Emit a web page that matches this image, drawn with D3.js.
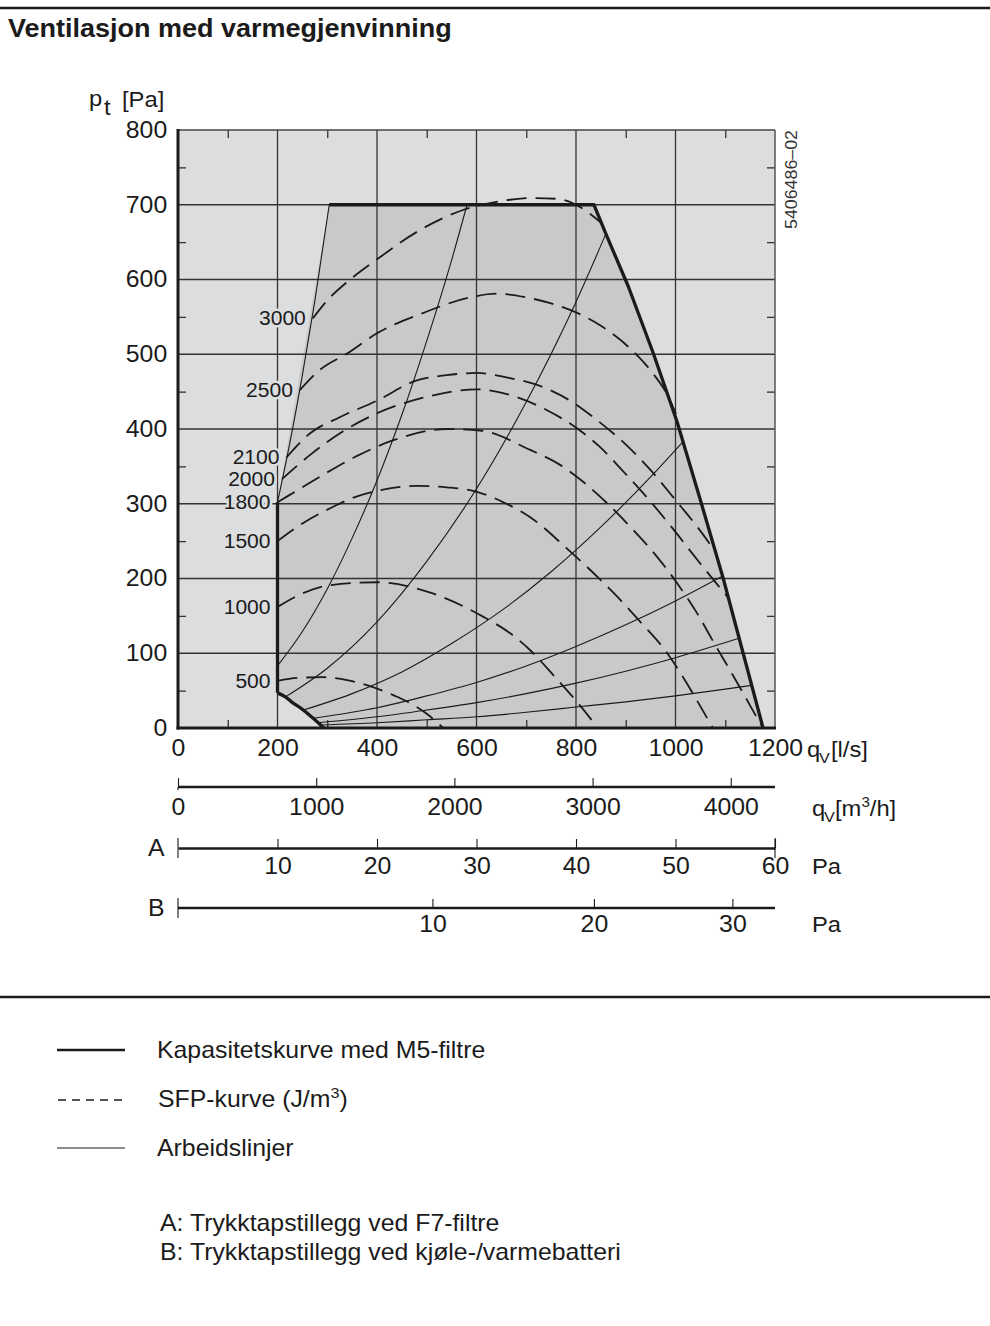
<!DOCTYPE html>
<html><head><meta charset="utf-8">
<script src="https://cdn.jsdelivr.net/npm/d3@7"></script>
<style>
html,body{margin:0;padding:0;background:#fff;}
svg{display:block;font-family:"Liberation Sans",Arial,Helvetica,sans-serif;}
</style></head><body>
<svg id="chart" width="990" height="1326"></svg>
<script>
// ---------- data ----------
const xTicks = [0, 200, 400, 600, 800, 1000, 1200];
const yTicks = [0, 100, 200, 300, 400, 500, 600, 700, 800];
const xMinor = [100, 300, 500, 700, 900, 1100];
const yMinor = [50, 150, 250, 350, 450, 550, 650, 750];
const m3hTicks = [0, 1000, 2000, 3000, 4000];
const aTicks = [10, 20, 30, 40, 50, 60];
const bTicks = [10, 20, 30];

// capacity curve (M5 filters)  [q l/s, p Pa]
const capacityOuter = [[304,700],[836,700],[862,658],[905,591],[955,502],[1003,410],[1050,305],[1096,200],[1136,100],[1176,0]];
const capacityLower = [[200,302],[200,47],[215,42],[230,34],[250,25],[270,14],[285,5],[293,0]];

// working lines
const work0 = [[200,302],[225,382],[250,472],[275,571],[304,700]];
const work1 = [[200,83],[250,129],[300,186],[350,254],[400,331],[450,419],[500,518],[550,626],[581,700]];
const work2 = [[217,42],[300,80],[400,142],[500,223],[600,320],[700,436],[800,570],[860,661]];
const work3 = [[252,24],[350,46],[450,75],[550,113],[650,157],[750,209],[850,269],[950,336],[1015,383]];
const work4 = [[272,13],[400,27],[500,43],[600,61],[700,83],[800,109],[900,138],[1000,170],[1094,203]];
const work5 = [[281,7],[400,15],[500,24],[600,34],[700,46],[800,60],[900,76],[1000,94],[1128,120]];
const work6 = [[287,4],[400,7],[500,11],[600,15],[700,21],[800,28],[900,35],[1000,43],[1100,52],[1153,57]];

// SFP curves (J/m3)
const sfpLabels = ["500","1000","1500","1800","2000","2100","2500","3000"];
const sfp500  = [[200,63],[240,67],[290,68],[340,64],[390,55],[436,43],[470,32],[500,19],[533,0]];
const sfp1000 = [[200,162],[250,180],[305,191],[400,195],[512,180],[613,149],[667,127],[708,104],[754,71],[802,35],[844,0]];
const sfp1500 = [[200,250],[251,274],[312,296],[360,310],[406,318],[480,324],[540,322],[601,316],[660,300],[708,282],[782,240],[834,208],[884,175],[932,140],[979,104],[1019,64],[1043,37],[1075,0]];
const sfp1800 = [[200,302],[250,322],[300,342],[360,364],[433,385],[541,400],[607,398],[708,372],[768,352],[862,301],[915,265],[963,229],[1003,194],[1043,154],[1079,112],[1116,70],[1150,30],[1172,4]];
const sfp2000 = [[209,333],[265,365],[332,397],[400,421],[500,443],[601,453],[680,443],[742,425],[808,398],[848,376],[894,344],[942,309],[993,268],[1045,224],[1105,175]];
const sfp2100 = [[218,362],[265,394],[326,416],[400,438],[480,465],[540,472],[601,475],[660,469],[722,459],[788,438],[842,412],[902,378],[950,345],[1000,305],[1045,268],[1080,236]];
const sfp2500 = [[245,452],[285,479],[340,501],[400,528],[492,555],[587,576],[641,581],[700,576],[750,568],[800,556],[850,538],[905,510],[955,474],[980,450],[1001,420]];
const sfp3000 = [[271,548],[300,572],[346,600],[400,627],[486,666],[573,693],[650,705],[714,709],[760,708],[794,702],[828,688],[852,675]];

const workLines = [work0, work1, work2, work3, work4, work5, work6];
const sfpCurves = [sfp500, sfp1000, sfp1500, sfp1800, sfp2000, sfp2100, sfp2500, sfp3000];

// ---------- drawing ----------
const S = 1.08; // horizontal text stretch
const svg = d3.select("#chart");
const x = d3.scaleLinear().domain([0, 1200]).range([178, 775]);
const y = d3.scaleLinear().domain([0, 800]).range([728, 130]);
const qm3h = d3.scaleLinear().domain([0, 1200 * 3.6]).range([178, 775]);
const aScale = d3.scaleLinear().domain([0, 60]).range([178, 775]);
const bScale = d3.scalePow().exponent(0.709).domain([0, 33.3]).range([178, 775]);
const fmt = d3.format("d");

const BG = "#dcdddf", REGION = "#c8c9cb", INK = "#1b1b1b";

function txt(parent, px, py, str, size, opts = {}) {
  const t = parent.append("text")
    .attr("transform", `translate(${px},${py}) scale(${S},1)`)
    .attr("font-size", size)
    .attr("text-anchor", opts.anchor || "start")
    .attr("font-weight", opts.weight || "normal")
    .attr("fill", INK);
  if (opts.dy) t.attr("dy", opts.dy);
  t.text(str);
  return t;
}

// rules and title
svg.append("line").attr("x1",0).attr("x2",990).attr("y1",8).attr("y2",8).attr("stroke",INK).attr("stroke-width",2.5);
svg.append("line").attr("x1",0).attr("x2",990).attr("y1",997).attr("y2",997).attr("stroke",INK).attr("stroke-width",2.5);
txt(svg, 8, 37, "Ventilasjon med varmegjenvinning", 25, {weight: "bold"});

// plot background
svg.append("rect").attr("x", x(0)).attr("y", y(800)).attr("width", x(1200) - x(0)).attr("height", y(0) - y(800)).attr("fill", BG);

// operating region
const regionPts = capacityOuter.concat([[293,0]], capacityLower.slice().reverse().slice(1, -1), capacityLower.slice(0,1), work0.slice().reverse());
const lin = d3.line().x(d => x(d[0])).y(d => y(d[1]));
svg.append("path").attr("d", lin(regionPts) + "Z").attr("fill", REGION).attr("stroke", "none");

// grid
const grid = svg.append("g").attr("stroke", "#333").attr("stroke-width", 1.3);
grid.selectAll(".gx").data(xTicks.slice(1, -1)).join("line")
  .attr("x1", d => x(d)).attr("x2", d => x(d)).attr("y1", y(0)).attr("y2", y(800));
grid.selectAll(".gy").data(yTicks.slice(1, -1)).join("line")
  .attr("x1", x(0)).attr("x2", x(1200)).attr("y1", d => y(d)).attr("y2", d => y(d));

// minor ticks (inside)
function styleTicks(g) { g.select(".domain").remove(); g.selectAll("line").attr("stroke", "#333").attr("stroke-width", 1.3); }
svg.append("g").attr("transform", `translate(0,${y(0)})`).call(d3.axisBottom(x).tickValues(xMinor).tickSize(-8).tickFormat("")).call(styleTicks);
svg.append("g").attr("transform", `translate(0,${y(800)})`).call(d3.axisTop(x).tickValues(xMinor).tickSize(-8).tickFormat("")).call(styleTicks);
svg.append("g").attr("transform", `translate(${x(0)},0)`).call(d3.axisLeft(y).tickValues(yMinor).tickSize(-8).tickFormat("")).call(styleTicks);
svg.append("g").attr("transform", `translate(${x(1200)},0)`).call(d3.axisRight(y).tickValues(yMinor).tickSize(-8).tickFormat("")).call(styleTicks);

// frame
svg.append("line").attr("x1", x(0)).attr("x2", x(1200)).attr("y1", y(800)).attr("y2", y(800)).attr("stroke", "#444").attr("stroke-width", 1.5);
svg.append("line").attr("x1", x(1200)).attr("x2", x(1200)).attr("y1", y(800)).attr("y2", y(0)).attr("stroke", "#555").attr("stroke-width", 1.5);
svg.append("line").attr("x1", x(0)).attr("x2", x(0)).attr("y1", y(800) - 1).attr("y2", y(0) + 1.5).attr("stroke", INK).attr("stroke-width", 3);
svg.append("line").attr("x1", x(0) - 1.5).attr("x2", x(1200) + 1).attr("y1", y(0)).attr("y2", y(0)).attr("stroke", INK).attr("stroke-width", 3);

// working lines
const smooth = d3.line().x(d => x(d[0])).y(d => y(d[1])).curve(d3.curveMonotoneX);
svg.append("g").selectAll("path").data(workLines).join("path")
  .attr("d", smooth).attr("fill", "none").attr("stroke", INK).attr("stroke-width", 1.1);

// SFP curves
svg.append("g").selectAll("path").data(sfpCurves).join("path")
  .attr("d", smooth).attr("fill", "none").attr("stroke", INK).attr("stroke-width", 1.8)
  .attr("stroke-dasharray", "20,9");

// capacity curve
svg.append("path").attr("d", lin(capacityOuter)).attr("fill", "none").attr("stroke", INK).attr("stroke-width", 3.3).attr("stroke-linejoin", "round");
svg.append("path").attr("d", lin(capacityLower.slice(0, 2))).attr("fill", "none").attr("stroke", INK).attr("stroke-width", 3.3);
svg.append("path").attr("d", d3.line().x(d => x(d[0])).y(d => y(d[1])).curve(d3.curveCatmullRom)(capacityLower.slice(1)))
  .attr("fill", "none").attr("stroke", INK).attr("stroke-width", 3.3);

// SFP labels
const lab = svg.append("g");
sfpCurves.forEach((c, i) => {
  txt(lab, x(c[0][0]) - 7, y(c[0][1]), sfpLabels[i], 19.5, {anchor: "end", dy: "0.36em"})
    .attr("stroke", BG).attr("stroke-width", 5).attr("paint-order", "stroke").attr("stroke-linejoin", "round");
});

// main axes labels
const xAx = svg.append("g").attr("transform", `translate(0,${y(0)})`)
  .call(d3.axisBottom(x).tickValues(xTicks).tickSize(0).tickPadding(12).tickFormat(fmt));
xAx.select(".domain").remove();
xAx.selectAll("text").attr("font-size", 23).attr("font-family", null).attr("fill", INK).attr("transform", `scale(${S},1)`);
const yAx = svg.append("g").attr("transform", `translate(${x(0)},0)`)
  .call(d3.axisLeft(y).tickValues(yTicks).tickSize(0).tickPadding(10).tickFormat(fmt));
yAx.select(".domain").remove();
yAx.selectAll("text").attr("font-size", 23).attr("font-family", null).attr("fill", INK).attr("transform", `scale(${S},1)`);

// axis titles
txt(svg, 89, 106, "p", 22);
txt(svg, 104, 115, "t", 22);
txt(svg, 122, 107, "[Pa]", 22);
txt(svg, 807, 757, "q", 22);
txt(svg, 819, 763, "V", 15);
txt(svg, 831, 757, "[l/s]", 22);

// code number
svg.append("text").attr("transform", `translate(797,130) rotate(-90) scale(${S},1)`)
  .attr("font-size", 16.5).attr("text-anchor", "end").attr("fill", "#333").text("5406486\u201302");

// secondary axes
function secAxis(scale, ticks, ypos, pad) {
  const g = svg.append("g").attr("transform", `translate(0,${ypos})`)
    .call(d3.axisBottom(scale).tickValues(ticks).tickSize(-9).tickSizeOuter(0).tickPadding(pad).tickFormat(fmt));
  g.select(".domain").attr("stroke", INK).attr("stroke-width", 2.6);
  g.selectAll(".tick line").attr("stroke", INK).attr("stroke-width", 1.1);
  g.selectAll("text").attr("font-size", 23).attr("font-family", null).attr("fill", INK).attr("transform", `scale(${S},1)`);
  return g;
}
const gM = secAxis(qm3h, m3hTicks, 787, 12);
gM.select(".domain").attr("d", `M${qm3h(0)},0H${x(1200)}`);
const gA = secAxis(aScale, aTicks, 848, 10);
const gB = secAxis(bScale, bTicks, 908, 8);
gB.select(".domain").attr("d", `M${bScale(0)},0H${x(1200)}`);
// end brackets
[[aScale(0), 848], [aScale(60), 848], [bScale(0), 908]].forEach(([px, py]) => {
  svg.append("line").attr("x1", px).attr("x2", px).attr("y1", py - 10).attr("y2", py + 10).attr("stroke", INK).attr("stroke-width", 1.1);
});
svg.append("line").attr("x1", qm3h(0)).attr("x2", qm3h(0)).attr("y1", 787).attr("y2", 790).attr("stroke", INK).attr("stroke-width", 1.1);

txt(svg, 148, 848, "A", 23, {dy: "0.36em"});
txt(svg, 148, 908, "B", 23, {dy: "0.36em"});
// unit labels
txt(svg, 812, 816, "q", 22);
txt(svg, 824, 822, "V", 15);
const tu = svg.append("text").attr("transform", `translate(835,816) scale(${S},1)`).attr("font-size", 22).attr("fill", INK);
tu.append("tspan").text("[m");
tu.append("tspan").attr("font-size", 14).attr("dy", -9).text("3");
tu.append("tspan").attr("dy", 9).text("/h]");
txt(svg, 812, 874, "Pa", 22);
txt(svg, 812, 932, "Pa", 22);

// legend
const lg = svg.append("g");
lg.append("line").attr("x1", 57).attr("x2", 125).attr("y1", 1050).attr("y2", 1050).attr("stroke", INK).attr("stroke-width", 2.6);
lg.append("line").attr("x1", 58).attr("x2", 125).attr("y1", 1100).attr("y2", 1100).attr("stroke", INK).attr("stroke-width", 1.3).attr("stroke-dasharray", "8,6");
lg.append("line").attr("x1", 57).attr("x2", 125).attr("y1", 1148).attr("y2", 1148).attr("stroke", INK).attr("stroke-width", 1.1);
txt(lg, 157, 1058, "Kapasitetskurve med M5-filtre", 23);
const sfpT = lg.append("text").attr("transform", `translate(158,1107) scale(${S},1)`).attr("font-size", 23).attr("fill", INK);
sfpT.append("tspan").text("SFP-kurve (J/m");
sfpT.append("tspan").attr("font-size", 15).attr("dy", -9).text("3");
sfpT.append("tspan").attr("dy", 9).text(")");
txt(lg, 157, 1156, "Arbeidslinjer", 23);
txt(lg, 160, 1231, "A: Trykktapstillegg ved F7-filtre", 23);
txt(lg, 160, 1260, "B: Trykktapstillegg ved kjøle-/varmebatteri", 23);
</script>
</body></html>
